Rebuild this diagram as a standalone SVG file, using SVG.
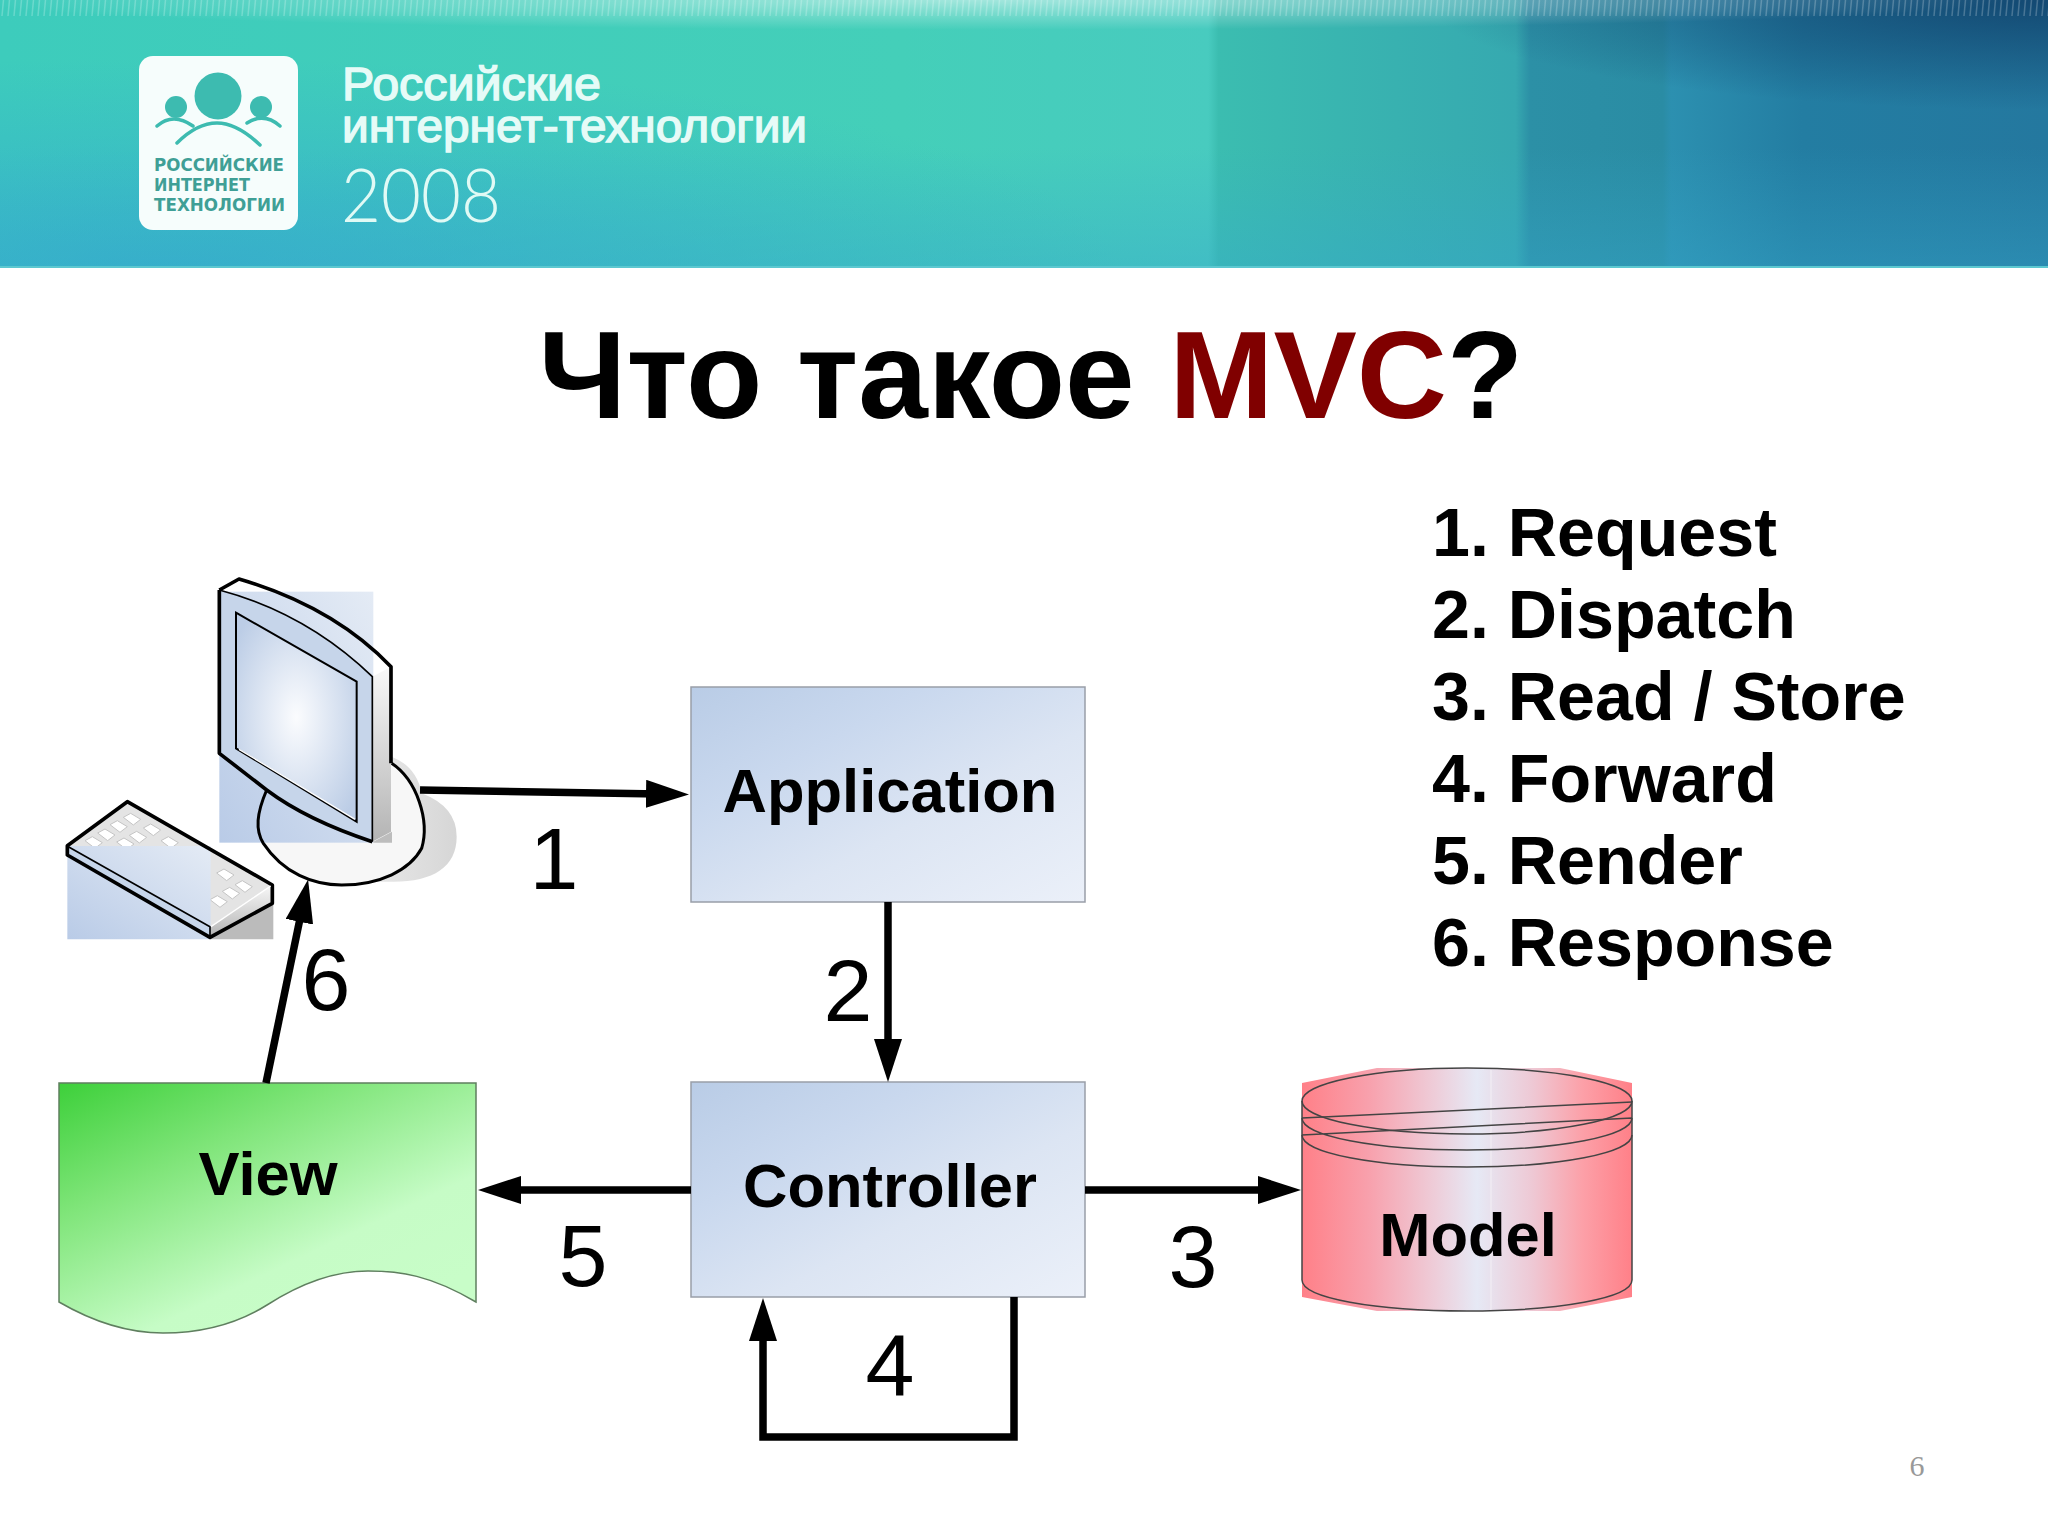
<svg xmlns="http://www.w3.org/2000/svg" width="2048" height="1536" viewBox="0 0 2048 1536">
<style>
text{font-family:"Liberation Sans",Arial,sans-serif}
.num{font-size:88px;fill:#000}
.lbl{font-size:61.5px;font-weight:bold;fill:#000}
.lst{font-size:68.2px;font-weight:bold;fill:#000}
.conn{fill:none;stroke:#000;stroke-width:7.5}
.o{fill:none;stroke:#000;stroke-width:11;stroke-linejoin:round}
.o2{fill:none;stroke:#000;stroke-width:5}
.hd{fill:#e6fbf7;stroke:#e6fbf7;stroke-width:1.4;font-size:46px}
.lg{font-family:"DejaVu Sans Condensed","DejaVu Sans",sans-serif;font-weight:bold;font-size:17px;fill:#3f9f96}
.yr{font-family:Lato,"Liberation Sans",sans-serif;font-weight:300;font-size:74px;fill:#e0faf5}
.arc{fill:none;stroke:#3dbbb0;stroke-width:3.5;stroke-linecap:round}
.box{stroke:#999ea8;stroke-width:1.5;fill:url(#box)}
</style>
<defs>
<linearGradient id="hdr" x1="0" y1="0" x2="1" y2="0">
<stop offset="0" stop-color="#3dccbc"/><stop offset=".44" stop-color="#44cfb9"/><stop offset=".59" stop-color="#48cbbf"/><stop offset=".595" stop-color="#3bbdb0"/><stop offset=".74" stop-color="#36a9b0"/><stop offset=".747" stop-color="#2c90a6"/><stop offset=".812" stop-color="#2a8ca4"/><stop offset=".816" stop-color="#2c90b0"/><stop offset=".88" stop-color="#237da2"/><stop offset="1" stop-color="#24789f"/></linearGradient>
<radialGradient id="hdrL" gradientUnits="userSpaceOnUse" cx="0" cy="0" r="1" gradientTransform="translate(170 268) scale(950 210)"><stop offset="0" stop-color="#35a8d0" stop-opacity=".7"/><stop offset="1" stop-color="#35a8d0" stop-opacity="0"/></radialGradient>
<linearGradient id="hdrB" x1="0" y1="0" x2="0" y2="1"><stop offset=".55" stop-color="#36a8cc" stop-opacity="0"/><stop offset="1" stop-color="#36a8cc" stop-opacity=".4"/></linearGradient>
<radialGradient id="hdrD" gradientUnits="userSpaceOnUse" cx="0" cy="0" r="1" gradientTransform="translate(2048 0) scale(620 110)"><stop offset="0" stop-color="#10406a" stop-opacity=".85"/><stop offset="1" stop-color="#10406a" stop-opacity="0"/></radialGradient>
<radialGradient id="hdrG" cx=".48" cy="0" r=".5"><stop offset="0" stop-color="#fff" stop-opacity=".5"/><stop offset="1" stop-color="#fff" stop-opacity="0"/></radialGradient>
<pattern id="hatch" width="6" height="16" patternUnits="userSpaceOnUse"><path d="M3.5 0L2 16" stroke="#fff" stroke-opacity=".22" stroke-width="1.5"/></pattern>
<linearGradient id="box" x1="0" y1="0" x2="1" y2="1"><stop offset="0" stop-color="#b9cce6"/><stop offset=".3" stop-color="#c9d8ee"/><stop offset=".6" stop-color="#dce5f3"/><stop offset="1" stop-color="#ebf0f9"/></linearGradient>
<linearGradient id="blue" x1="0" y1="1" x2="1" y2="0"><stop offset="0" stop-color="#b9cbe7"/><stop offset="1" stop-color="#e4ebf5"/></linearGradient>
<radialGradient id="scr" cx=".5" cy=".5" r=".62"><stop offset="0" stop-color="#fbfcfe"/><stop offset="1" stop-color="#bccde6"/></radialGradient>
<linearGradient id="grey" x1="0" y1="0" x2="0" y2="1"><stop offset="0" stop-color="#f8f8f8"/><stop offset="1" stop-color="#b4b4b4"/></linearGradient>
<linearGradient id="shadow" x1="0" y1="0" x2="1" y2="0"><stop offset="0" stop-color="#f6f6f6"/><stop offset="1" stop-color="#d6d6d6"/></linearGradient>
<linearGradient id="view" x1="0" y1="0" x2=".75" y2=".95"><stop offset="0" stop-color="#3dd03a"/><stop offset=".35" stop-color="#80e57a"/><stop offset=".75" stop-color="#c6fcc6"/><stop offset="1" stop-color="#c8fdc8"/></linearGradient>
<linearGradient id="cyl" x1="0" y1="0" x2="1" y2="0"><stop offset="0" stop-color="#ff8088"/><stop offset=".2" stop-color="#f8a0ac"/><stop offset=".4" stop-color="#eeccd8"/><stop offset=".53" stop-color="#e6e9f5"/><stop offset=".7" stop-color="#eec8d4"/><stop offset=".85" stop-color="#fca0a8"/><stop offset="1" stop-color="#ff8088"/></linearGradient>
<marker id="ah" viewBox="0 0 43 28" refX="13" refY="14" markerWidth="43" markerHeight="28" markerUnits="userSpaceOnUse" orient="auto"><path d="M0 0L43 14L0 28Z" fill="#000"/></marker>
<polygon id="key" points="-25,-6 -3,-18 27,0 5,17" fill="#fff" stroke="#c4c4c4" stroke-width="3"/>
</defs>
<g id="header">
<rect width="2048" height="268" fill="url(#hdr)"/>
<rect width="2048" height="268" fill="url(#hdrL)"/>
<rect width="2048" height="268" fill="url(#hdrB)"/>
<rect width="2048" height="268" fill="url(#hdrD)"/>
<rect width="2048" height="60" fill="url(#hdrG)"/>
<rect width="2048" height="16" fill="url(#hatch)"/>
<rect y="266" width="2048" height="2" fill="#5cc8d0"/>
<g id="logo">
<rect x="139" y="56" width="159" height="174" rx="14" fill="#f6fdfc"/>
<g fill="#3dbbb0"><circle cx="218" cy="96" r="23.5"/><circle cx="176" cy="107" r="11"/><circle cx="261" cy="107" r="11"/></g>
<path class="arc" d="M177 143Q197 123 217 123T260 145M157 126Q173 112 193 126M247 123Q264 112 280 126"/>
<text class="lg" x="154" y="171" textLength="130" lengthAdjust="spacingAndGlyphs">РОССИЙСКИЕ</text>
<text class="lg" x="154" y="191" textLength="96" lengthAdjust="spacingAndGlyphs">ИНТЕРНЕТ</text>
<text class="lg" x="154" y="211" textLength="131" lengthAdjust="spacingAndGlyphs">ТЕХНОЛОГИИ</text>
</g>
<text class="hd" x="342" y="100" textLength="259" lengthAdjust="spacingAndGlyphs">Российские</text>
<text class="hd" x="342" y="142" textLength="465" lengthAdjust="spacingAndGlyphs">интернет-технологии</text>
<text class="yr" x="341" y="222" textLength="160" lengthAdjust="spacingAndGlyphs">2008</text>
</g>
<text id="title" x="1031" y="418" font-size="125" font-weight="bold" text-anchor="middle">Что такое <tspan fill="#800000">MVC</tspan>?</text>
<g id="legend">
<text class="lst" x="1432" y="556">1. Request</text><text class="lst" x="1432" y="638">2. Dispatch</text><text class="lst" x="1432" y="720">3. Read / Store</text><text class="lst" x="1432" y="802">4. Forward</text><text class="lst" x="1432" y="884">5. Render</text><text class="lst" x="1432" y="966">6. Response</text>
</g>
<g id="user" transform="translate(40 560) scale(.33333)">
<path d="M1055 590Q1130 620 1145 700Q1250 740 1250 830C1250 920 1180 965 1060 965H800Z" fill="url(#shadow)"/>
<path id="stand" d="M680 690C650 760 645 810 670 850C730 940 820 975 905 975C1020 975 1110 930 1145 865C1170 780 1130 660 1055 610Z" fill="#f7f7f7"/>
<rect x="538" y="95" width="462" height="753" fill="url(#blue)"/>
<path d="M680 690C650 760 645 810 670 850C730 940 820 975 905 975C1020 975 1110 930 1145 865C1170 780 1130 660 1055 610" fill="none" stroke="#000" stroke-width="9"/>
<path d="M997 350L1053 320V815L997 845Z" fill="url(#grey)"/><path d="M1000 845L1056 815V848H1000Z" fill="#bdbdbd"/>
<path d="M538 90Q800 160 997 350V845Q800 780 680 690L538 580Z" fill="#c6d5ea"/>
<path d="M588 158L950 365V785L588 565Z" fill="url(#scr)" stroke="#000" stroke-width="6"/>
<path d="M597 568L945 778" fill="none" stroke="#fff" stroke-width="4"/>
<path class="o" d="M538 90L597 57Q880 140 1053 320V610"/>
<path class="o" d="M997 845Q800 780 680 690L538 580V90"/>
<path class="o2" d="M538 90Q800 160 997 350V845"/>
</g>
<g id="keyboard" transform="translate(40 560) scale(.33333)">
<path d="M510 1100L700 1030V1138H510Z" fill="#bbb"/>
<path d="M85 860L262 725L695 975L510 1100Z" fill="#e4e4e4"/>
<path d="M510 1100L695 975V1030L510 1130Z" fill="url(#grey)"/>
<use href="#key" x="275" y="778"/><use href="#key" x="235" y="800"/><use href="#key" x="198" y="825"/><use href="#key" x="160" y="848"/><use href="#key" x="335" y="810"/><use href="#key" x="293" y="832"/><use href="#key" x="255" y="852"/><use href="#key" x="388" y="848"/><use href="#key" x="555" y="945"/><use href="#key" x="610" y="980"/><use href="#key" x="572" y="1000"/><use href="#key" x="535" y="1025"/>
<path d="M82 858H512V1138H82Z" fill="url(#blue)"/>
<path d="M82 882L510 1130V1100L82 858Z" fill="#c6d5ea"/>
<path class="o" d="M262 725L697 975V1030L510 1132L82 885V857Z"/>
<path class="o2" d="M85 860L510 1100V1130"/>
<path d="M513 1100L692 978" fill="none" stroke="#fff" stroke-width="4"/>
</g>
<g id="application"><rect class="box" x="691" y="687" width="394" height="215"/><text class="lbl" x="890" y="812" text-anchor="middle">Application</text></g>
<g id="controller"><rect class="box" x="691" y="1082" width="394" height="215"/><text class="lbl" x="890" y="1207" text-anchor="middle">Controller</text></g>
<g id="view-node"><path d="M59 1083H476V1302C430 1275 400 1271 368 1271C330 1271 295 1287 267 1305C235 1325 200 1333 163 1333C125 1333 90 1320 59 1302Z" fill="url(#view)" stroke="#5f7f5f" stroke-width="1.5"/><text class="lbl" x="268" y="1195" text-anchor="middle">View</text></g>
<g id="model">
<path d="M1302 1083L1377 1068H1560L1632 1083V1297L1560 1311H1377L1302 1297Z" fill="url(#cyl)"/>
<path d="M1491 1070V1310" stroke="#fff" stroke-opacity=".5" stroke-width="1"/>
<g fill="none" stroke="#444" stroke-width="1.5"><ellipse cx="1467" cy="1101" rx="165" ry="33"/><path d="M1302 1101V1280C1302 1298 1375 1311 1467 1311S1632 1298 1632 1280V1101"/><path d="M1302 1118C1302 1136 1375 1150 1467 1150S1632 1136 1632 1118M1302 1135C1302 1153 1375 1167 1467 1167S1632 1153 1632 1135M1302 1118L1632 1102M1302 1135L1632 1118"/></g>
<text class="lbl" x="1468" y="1256" text-anchor="middle">Model</text>
</g>
<g id="connectors">
<path class="conn" d="M420 790L659 794" marker-end="url(#ah)"/>
<path class="conn" d="M888 902V1052" marker-end="url(#ah)"/>
<path class="conn" d="M1085 1190H1271" marker-end="url(#ah)"/>
<path class="conn" d="M691 1190H508" marker-end="url(#ah)"/>
<path class="conn" d="M1014 1297V1437H763V1328" marker-end="url(#ah)"/>
<path class="conn" d="M266 1083L302 909" marker-end="url(#ah)"/>
</g>
<g id="labels">
<text class="num" x="554" y="889" text-anchor="middle">1</text><text class="num" x="848" y="1021" text-anchor="middle">2</text><text class="num" x="1193" y="1287" text-anchor="middle">3</text><text class="num" x="890" y="1396" text-anchor="middle">4</text><text class="num" x="583" y="1286" text-anchor="middle">5</text><text class="num" x="326" y="1010" text-anchor="middle">6</text>
</g>
<text id="page" x="1917" y="1476" font-size="30" fill="#999" text-anchor="middle" style="font-family:'Liberation Serif',serif">6</text>
</svg>
